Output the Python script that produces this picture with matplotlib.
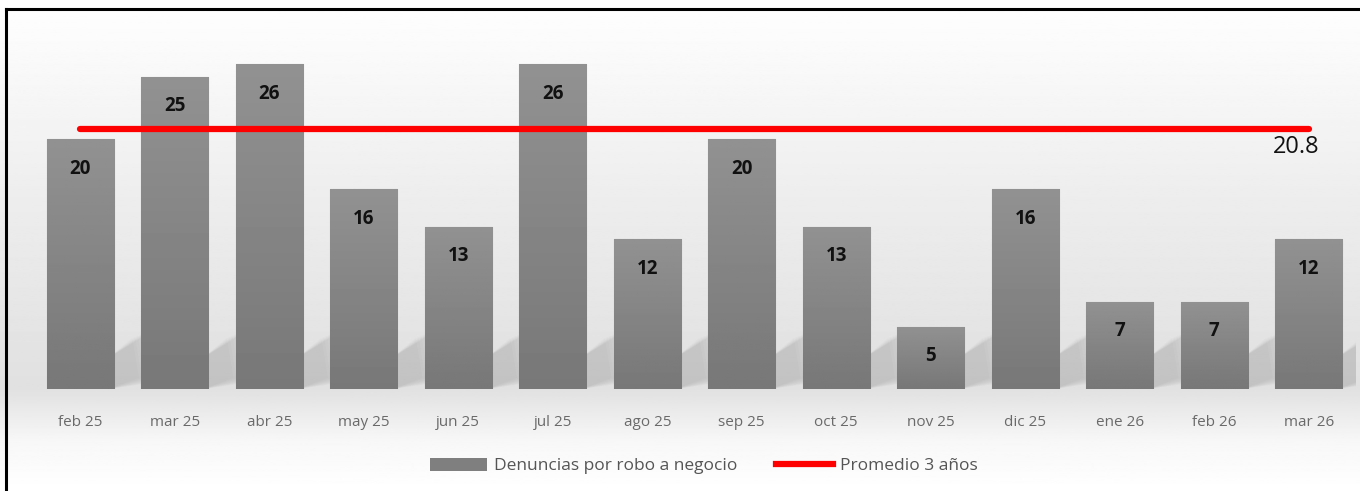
import matplotlib.pyplot as plt
import numpy as np
from matplotlib.lines import Line2D
from matplotlib.patches import Patch

meses = ["feb 25", "mar 25", "abr 25", "may 25", "jun 25", "jul 25", "ago 25",
         "sep 25", "oct 25", "nov 25", "dic 25", "ene 26", "feb 26", "mar 26"]
denuncias = [20, 25, 26, 16, 13, 26, 12, 20, 13, 5, 16, 7, 7, 12]
promedio = 20.8

W, H = 1360, 491
fig = plt.figure(figsize=(W / 100, H / 100), dpi=100)

# background gradient: white top -> light grey near axis -> white at bottom
bg = fig.add_axes([0, 0, 1, 1], zorder=0)
yy = np.linspace(0, 1, 400)
shade = np.interp(yy, [0, 0.10, 0.21, 0.60, 0.95, 1.0], [1.0, 0.97, 0.88, 0.93, 0.99, 1.0])
bg.imshow(np.tile(shade[:, None], (1, 2)), cmap="gray", vmin=0, vmax=1,
          aspect="auto", extent=[0, 1, 0, 1], origin="lower")
bg.set_xlim(0, 1)
bg.set_ylim(0, 1)
bg.axis("off")

# frame (only left and top visible in the reference)
bg.plot([5.5 / W, 5.5 / W], [0, 1 - 9 / H], color="black", lw=2.2)
bg.plot([5.5 / W, 1], [1 - 9 / H, 1 - 9 / H], color="black", lw=2.2)

# main axes
ax_left, ax_right = 33 / W, 1356 / W
ax_bottom, ax_top = (H - 389) / H, (H - 27) / H
ax = fig.add_axes([ax_left, ax_bottom, ax_right - ax_left, ax_top - ax_bottom], zorder=1)
ax.patch.set_alpha(0)
x = np.arange(len(meses))
ax.set_xlim(-0.5, len(meses) - 0.5)
ax.set_ylim(0, 29)

# soft slanted shadows behind the bars
for xi, v in zip(x, denuncias):
    h = min(v, 5) * 0.5
    for k in range(10):
        s = 0.03 * k
        poly = plt.Polygon([[xi + 0.3, 0.0], [xi + 0.3, h],
                            [xi + 0.55 + s, h + 1.6 + s * 3], [xi + 0.62 + s, 0.9 - s]],
                           closed=True, color="#7a7a7a", alpha=0.028, lw=0, zorder=1)
        ax.add_patch(poly)

bars = ax.bar(x, denuncias, width=0.71, color="#858585", edgecolor="#a0a0a0",
              linewidth=0.8, zorder=2)
grad = np.linspace(0.47, 0.57, 100)[:, None]
for b in bars:
    bx, by = b.get_x(), b.get_y()
    bw, bh = b.get_width(), b.get_height()
    im = ax.imshow(np.tile(grad, (1, 2)), cmap="gray", vmin=0, vmax=1, aspect="auto",
                   extent=[bx, bx + bw, by, by + bh], origin="lower", zorder=2.5)
    im.set_clip_path(b)

for xi, v in zip(x, denuncias):
    ax.text(xi, v - 2.35, str(v), ha="center", va="center", fontsize=13.5,
            fontweight="bold", family="Open Sans", color="#111111", zorder=4)

ax.plot([x[0], x[-1]], [promedio, promedio], color="#ff0000", lw=4.5,
        solid_capstyle="round", zorder=3)
ax.text(x[-1] - 0.13, promedio - 1.45, f"{promedio}", ha="center", va="center",
        fontsize=17, family="Open Sans", color="#111111", zorder=4)

ax.set_xticks(x)
ax.set_xticklabels(meses, fontsize=11, family="Open Sans", color="#6a6a6a")
ax.tick_params(axis="x", length=0, pad=19)
ax.set_yticks([])
for s in ax.spines.values():
    s.set_visible(False)

handles = [Patch(facecolor="#7f7f7f", edgecolor="none"),
           Line2D([0], [0], color="#ff0000", lw=4.5)]
fig.legend(handles, ["Denuncias por robo a negocio", "Promedio 3 años"],
           loc="center", bbox_to_anchor=(704 / W, 1 - 466 / H), ncol=2,
           frameon=False, handlelength=3.3, handleheight=0.8, handletextpad=0.4,
           columnspacing=2.2, prop={"family": "Open Sans", "size": 12.5},
           labelcolor="#555555")

fig.savefig("out.png", dpi=100)
